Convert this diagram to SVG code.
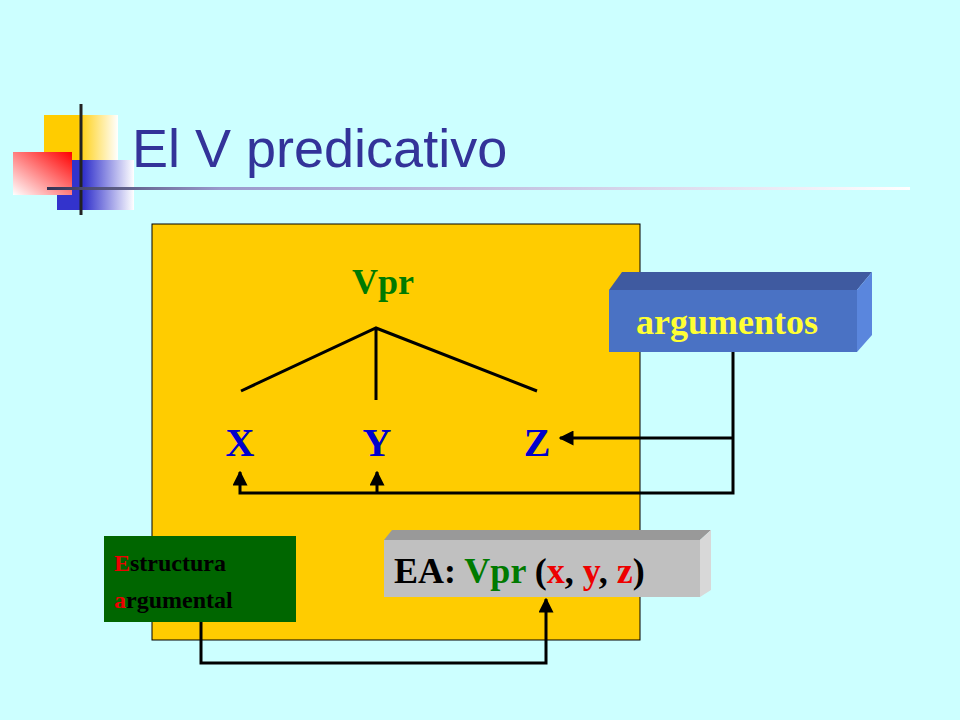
<svg xmlns="http://www.w3.org/2000/svg" width="960" height="720" viewBox="0 0 960 720">
<defs>
<linearGradient id="gy" x1="0" x2="1"><stop offset="0.45" stop-color="#ffcc00"/><stop offset="1" stop-color="#ffffff"/></linearGradient>
<linearGradient id="gr" x1="1" y1="0" x2="0" y2="1"><stop offset="0" stop-color="#ff0000"/><stop offset="1" stop-color="#ffffff"/></linearGradient>
<linearGradient id="gb" x1="0" x2="1"><stop offset="0.35" stop-color="#3333cc"/><stop offset="1" stop-color="#ffffff"/></linearGradient>
<linearGradient id="gl" x1="0" x2="1"><stop offset="0" stop-color="#333355"/><stop offset="0.2" stop-color="#9999cc"/><stop offset="1" stop-color="#ffffff"/></linearGradient>
<marker id="ar" viewBox="0 0 10 10" refX="9" refY="5" markerWidth="5" markerHeight="5" orient="auto"><path d="M0,0L10,5L0,10z" fill="#000"/></marker>
<style>
.b{font-family:"Liberation Serif",serif;font-weight:bold}
.ln{stroke:#000;stroke-width:3;fill:none}
.cn{stroke:#000;stroke-width:3;fill:none}
</style>
</defs>
<rect width="960" height="720" fill="#ccffff"/>
<g id="logo">
<rect x="44" y="115" width="74" height="63" fill="url(#gy)"/>
<rect x="57" y="160" width="77" height="50" fill="url(#gb)"/>
<rect x="13" y="152" width="59" height="43" fill="url(#gr)"/>
<line x1="81" y1="104" x2="81" y2="215" stroke="#222" stroke-width="3"/>
<rect x="47" y="187" width="863" height="3" fill="url(#gl)"/>
</g>
<text x="132" y="167" font-family="Liberation Sans,sans-serif" font-size="54" fill="#333399">El V predicativo</text>
<rect id="panel" x="152" y="224" width="488" height="416" fill="#ffcc00" stroke="#000" stroke-width="1"/>
<g id="tree">
<text class="b" x="383" y="294" font-size="36" fill="#007a00" text-anchor="middle">Vpr</text>
<path class="ln" d="M241,391L376,328L537,391M376,328V400"/>
<text class="b" x="240" y="456" font-size="40" fill="#0000cc" text-anchor="middle">X</text>
<text class="b" x="377" y="456" font-size="40" fill="#0000cc" text-anchor="middle">Y</text>
<text class="b" x="537" y="456" font-size="40" fill="#0000cc" text-anchor="middle">Z</text>
</g>
<g id="argumentos">
<polygon points="609,290 622,272 872,272 857,290" fill="#3f5aa0"/>
<polygon points="857,290 872,272 872,335 857,352" fill="#5a86dd"/>
<rect x="609" y="290" width="248" height="62" fill="#4a72c4"/>
<text class="b" x="727" y="334" font-size="36" fill="#ffff33" text-anchor="middle">argumentos</text>
</g>
<g id="ea">
<polygon points="384,540 392,530 711,530 700,540" fill="#999"/>
<polygon points="700,540 711,530 711,590 700,597" fill="#d8d8d8"/>
<rect x="384" y="540" width="316" height="57" fill="#c0c0c0"/>
<text class="b" x="394" y="583" font-size="36"><tspan fill="#000">EA: </tspan><tspan fill="#007a00">Vpr </tspan><tspan fill="#000">(</tspan><tspan fill="#e00">x</tspan><tspan fill="#000">, </tspan><tspan fill="#e00">y</tspan><tspan fill="#000">, </tspan><tspan fill="#e00">z</tspan><tspan fill="#000">)</tspan></text>
</g>
<g id="estructura">
<rect x="104" y="536" width="192" height="86" fill="#006600"/>
<text class="b" x="114" y="571" font-size="24" fill="#000"><tspan fill="#e00">E</tspan>structura</text>
<text class="b" x="114" y="608" font-size="24" fill="#000"><tspan fill="#e00">a</tspan>rgumental</text>
</g>
<g id="connectors">
<path class="cn" d="M733,352V493H240V472" marker-end="url(#ar)"/>
<path class="cn" d="M377,493V472" marker-end="url(#ar)"/>
<path class="cn" d="M733,438H560" marker-end="url(#ar)"/>
<path class="cn" d="M201,622V663H546V599" marker-end="url(#ar)"/>
</g>
</svg>
